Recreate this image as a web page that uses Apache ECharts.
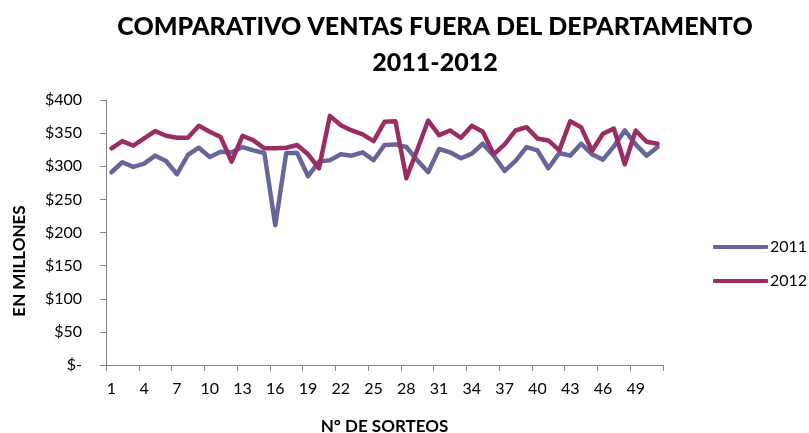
<!DOCTYPE html>
<html>
<head>
<meta charset="utf-8">
<script src="https://cdn.jsdelivr.net/npm/echarts@6/dist/echarts.min.js"></script>
<style>
  html, body { margin: 0; padding: 0; background: #fff; }
  #chart { width: 809px; height: 433px; }
</style>
</head>
<body>
<div id="chart"></div>
<script>
// sorteos 1..51
var sorteos = []
for (var i = 1; i <= 51; i++) sorteos.push(String(i))

// ventas en millones
var ventas2011 = [291, 306, 299, 304, 316, 308, 288, 317, 328, 314, 322, 321, 329, 324, 320, 211, 320,
  320, 285, 307, 309, 318, 316, 321, 309, 332, 333, 329, 309, 291, 326, 321, 312, 319, 334, 316, 293,
  308, 329, 324, 297, 320, 316, 334, 318, 310, 330, 354, 333, 316, 329]
var ventas2012 = [327, 338, 331, 342, 353, 346, 343, 343, 361, 352, 344, 307, 346, 339, 327, 327, 328,
  332, 318, 297, 376, 362, 354, 348, 338, 367, 368, 282, 325, 369, 347, 354, 343, 361, 352, 318, 333,
  354, 359, 342, 339, 324, 368, 359, 323, 349, 357, 303, 354, 337, 334]

var colores = ['#66669c', '#9b2d62']
var fuente = 'Lato, "Open Sans", sans-serif'

var chart = echarts.init(document.getElementById('chart'))
var option = {
  color: colores,
  animation: false,
  textStyle: { fontFamily: fuente },
  title: {
    text: 'COMPARATIVO VENTAS FUERA DEL DEPARTAMENTO\n2011-2012',
    left: 430,
    top: 4,
    textAlign: 'center',
    textStyle: { fontSize: 25, fontWeight: 900, color: '#000', lineHeight: 36, fontFamily: fuente }
  },
  legend: {
    orient: 'vertical',
    left: 708,
    top: 234,
    icon: 'roundRect',
    itemWidth: 55,
    itemHeight: 4,
    itemGap: 18,
    textStyle: { fontSize: 16, color: '#000', fontFamily: fuente, padding: [0, 0, 0, -3] }
  },
  grid: { left: 106, right: 146, top: 100, bottom: 68, outerBoundsMode: 'none' },
  xAxis: {
    type: 'category',
    data: sorteos,
    name: 'N° DE SORTEOS',
    nameLocation: 'middle',
    nameGap: 53,
    nameTextStyle: { fontSize: 17, fontWeight: 'bold', color: '#000' },
    axisLine: { lineStyle: { color: '#868686', width: 1 } },
    axisTick: { show: true, interval: 2, length: 6, lineStyle: { color: '#868686', width: 1 } },
    axisLabel: { interval: 2, fontSize: 16, color: '#000', margin: 16 }
  },
  yAxis: {
    type: 'value',
    min: 0,
    max: 400,
    interval: 50,
    splitLine: { show: false },
    axisLine: { show: true, lineStyle: { color: '#868686', width: 1 } },
    axisTick: { show: true, length: 6, lineStyle: { color: '#868686', width: 1 } },
    axisLabel: {
      fontSize: 16,
      color: '#000',
      margin: 24,
      formatter: function(v) { return v === 0 ? '$-' : '$' + v }
    }
  },
  graphic: [{
    type: 'text',
    x: 20,
    y: 261,
    rotation: Math.PI / 2,
    style: {
      text: 'EN MILLONES',
      fontSize: 17,
      fontWeight: 'bold',
      fontFamily: fuente,
      fill: '#000',
      align: 'center',
      verticalAlign: 'middle'
    }
  }],
  series: [
    {
      name: '2011',
      type: 'line',
      data: ventas2011,
      symbol: 'none',
      lineStyle: { width: 4.5, join: 'round', cap: 'round' }
    },
    {
      name: '2012',
      type: 'line',
      data: ventas2012,
      symbol: 'none',
      lineStyle: { width: 4.5, join: 'round', cap: 'round' }
    }
  ]
}
chart.setOption(option)
window.onresize = function() {
  chart.resize()
}
</script>
</body>
</html>
